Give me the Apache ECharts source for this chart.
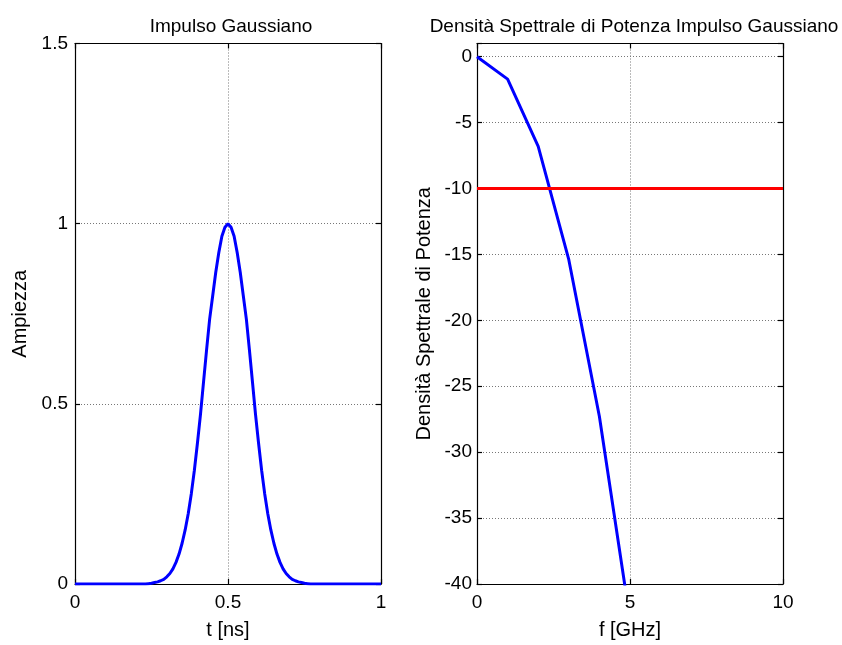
<!DOCTYPE html>
<html>
<head>
<meta charset="utf-8">
<script src="https://cdn.jsdelivr.net/npm/echarts@6/dist/echarts.min.js"></script>
<style>
html, body { margin: 0; padding: 0; background: #fff; }
#chart { width: 842px; height: 645px; }
</style>
</head>
<body>
<div id="chart"></div>
<script>
// impulso gaussiano, campioni
var tNs = [0, 0.10, 0.20, 0.21, 0.22, 0.23, 0.24, 0.25, 0.26, 0.27, 0.28, 0.29,
  0.30, 0.31, 0.32, 0.33, 0.34, 0.35, 0.36, 0.37, 0.38, 0.39,
  0.40, 0.41, 0.42, 0.43, 0.44, 0.45, 0.46, 0.47, 0.48, 0.49,
  0.50, 0.51, 0.52, 0.53, 0.54, 0.55, 0.56, 0.57, 0.58, 0.59,
  0.60, 0.61, 0.62, 0.63, 0.64, 0.65, 0.66, 0.67, 0.68, 0.69,
  0.70, 0.71, 0.72, 0.73, 0.74, 0.75, 0.76, 0.77, 0.78, 0.79,
  0.80, 0.90, 1.00];
var ampiezza = [0, 0, 0, 0, 0, 0, 0.001, 0.002, 0.004, 0.006, 0.009, 0.013,
  0.02, 0.029, 0.042, 0.06, 0.083, 0.113, 0.15, 0.195, 0.25, 0.315,
  0.39, 0.47, 0.56, 0.65, 0.735, 0.80, 0.865, 0.92, 0.965, 0.99,
  1, 0.99, 0.965, 0.92, 0.865, 0.80, 0.735, 0.65, 0.56, 0.47,
  0.39, 0.315, 0.25, 0.195, 0.15, 0.113, 0.083, 0.06, 0.042, 0.029,
  0.02, 0.013, 0.009, 0.006, 0.004, 0.002, 0.001, 0, 0, 0,
  0, 0, 0];

// densita spettrale di potenza [dB]
var fGHz = [0, 1, 2, 3, 4, 5];
var psdDb = [0, -1.7, -6.8, -15.4, -27.3, -42.7];
var soglia = -10;
var sogliaF = [0, 10];

var FONT = 'Liberation Sans, Arial, sans-serif';

function pairs(xs, ys) {
  var out = [];
  for (var i = 0; i < xs.length; i++) out.push([xs[i], ys[i]]);
  return out;
}

var axisLine = { show: true, onZero: false, lineStyle: { color: '#000', width: 1.2 } };
var axisTick = { show: true, inside: true, length: 5, lineStyle: { color: '#000', width: 1.2 } };
var gridLine = { show: true, lineStyle: { color: '#777', type: [1, 2], width: 1 } };
var lbl = { color: '#000', fontFamily: FONT, fontSize: 19 };
var nameStyle = { color: '#000', fontFamily: FONT, fontSize: 20 };

function mainX(grid, min, max, interval, name) {
  return {
    type: 'value', gridIndex: grid, min: min, max: max, interval: interval,
    position: 'bottom', axisLine: axisLine, axisTick: axisTick, splitLine: gridLine,
    axisLabel: Object.assign({ margin: 9 }, lbl),
    name: name, nameLocation: 'middle', nameGap: 36, nameTextStyle: nameStyle
  };
}
function boxX(grid, min, max, interval) {
  return {
    type: 'value', gridIndex: grid, min: min, max: max, interval: interval,
    position: 'top', axisLine: axisLine, axisTick: axisTick,
    axisLabel: { show: false }, splitLine: { show: false }
  };
}
function mainY(grid, min, max, interval, name, gap, margin) {
  return {
    type: 'value', gridIndex: grid, min: min, max: max, interval: interval,
    position: 'left', axisLine: axisLine, axisTick: axisTick, splitLine: gridLine,
    axisLabel: Object.assign({
      margin: margin,
      formatter: function (v) { return (Math.abs(v / interval - Math.round(v / interval)) < 1e-6) ? String(v) : ''; }
    }, lbl),
    name: name, nameLocation: 'middle', nameGap: gap, nameTextStyle: nameStyle
  };
}
function boxY(grid, min, max, interval) {
  return {
    type: 'value', gridIndex: grid, min: min, max: max, interval: interval,
    position: 'right', axisLine: axisLine, axisTick: axisTick,
    axisLabel: { show: false }, splitLine: { show: false }
  };
}

var myChart = echarts.init(document.getElementById('chart'), null, { renderer: 'canvas' });
var option = {
  backgroundColor: '#fff',
  animation: false,
  title: [
    { text: 'Impulso Gaussiano', left: 226, top: 12, textAlign: 'center',
      textStyle: { color: '#000', fontFamily: FONT, fontSize: 19, fontWeight: 'normal' } },
    { text: 'Densità Spettrale di Potenza Impulso Gaussiano', left: 629, top: 12, textAlign: 'center',
      textStyle: { color: '#000', fontFamily: FONT, fontSize: 19, fontWeight: 'normal' } }
  ],
  grid: [
    { left: 75, right: 461, top: 43.5, bottom: 54 },
    { left: 477, right: 59, top: 43.5, bottom: 54 }
  ],
  xAxis: [
    mainX(0, 0, 1, 0.5, 't [ns]'),
    boxX(0, 0, 1, 0.5),
    mainX(1, 0, 10, 5, 'f [GHz]'),
    boxX(1, 0, 10, 5)
  ],
  yAxis: [
    mainY(0, 0, 1.5, 0.5, 'Ampiezza', 45, 7),
    boxY(0, 0, 1.5, 0.5),
    mainY(1, -40, 1, 5, 'Densità Spettrale di Potenza', 43, 5),
    boxY(1, -40, 1, 5)
  ],
  series: [
    {
      type: 'line', xAxisIndex: 0, yAxisIndex: 0, data: pairs(tNs, ampiezza),
      showSymbol: false, smooth: false, lineStyle: { color: '#0000ff', width: 3 }
    },
    {
      type: 'line', xAxisIndex: 2, yAxisIndex: 2, data: pairs(fGHz, psdDb),
      showSymbol: false, lineStyle: { color: '#0000ff', width: 3 }
    },
    {
      type: 'line', xAxisIndex: 2, yAxisIndex: 2,
      data: pairs(sogliaF, [soglia, soglia]),
      showSymbol: false, lineStyle: { color: '#ff0000', width: 3 }
    }
  ]
};
myChart.setOption(option);
</script>
</body>
</html>
